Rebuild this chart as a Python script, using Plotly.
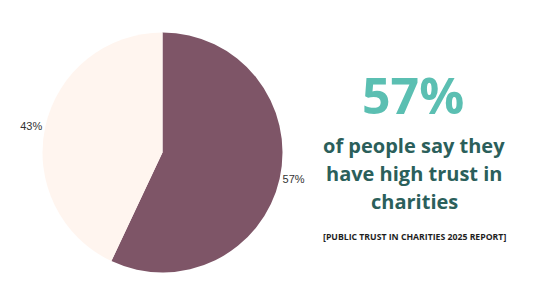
import plotly.graph_objects as go

labels = ["High trust", "Not high trust"]
values = [57, 43]
colors = ["#7e5567", "#fff5ef"]

headline = "57%"
subtitle_lines = ["of people say they", "have high trust in", "charities"]
source = "[PUBLIC TRUST IN CHARITIES 2025 REPORT]"

W, H = 544, 306
cx, cy, r = 162.5, 152.5, 120
fig = go.Figure(go.Pie(
    labels=labels, values=values, sort=False, direction="clockwise", rotation=0,
    marker=dict(colors=colors, line=dict(width=0)),
    textinfo="percent", textposition="outside",
    textfont=dict(family="Liberation Sans, Arial", size=11, color="#333333"),
    domain=dict(x=[(cx - r) / W, (cx + r) / W], y=[(H - cy - r) / H, (H - cy + r) / H]),
    showlegend=False, hoverinfo="label+percent",
))
fig.add_annotation(text=f"<b>{headline}</b>", x=413 / W, y=1 - 95 / H, xref="paper", yref="paper",
                   showarrow=False, xanchor="center", yanchor="middle",
                   font=dict(family="Open Sans", size=50, color="#5bbfb2"))
for i, line in enumerate(subtitle_lines):
    fig.add_annotation(text=f"<b>{line}</b>", x=414 / W, y=1 - (145 + 28 * i) / H, xref="paper", yref="paper",
                       showarrow=False, xanchor="center", yanchor="middle", align="center",
                       font=dict(family="Open Sans", size=20, color="#2b5f5b"))
fig.add_annotation(text=f"<b>{source}</b>", x=414 / W, y=1 - 236.5 / H, xref="paper", yref="paper",
                   showarrow=False, xanchor="center", yanchor="middle",
                   font=dict(family="Open Sans", size=8.7, color="#1e1e1e"))
fig.update_layout(width=W, height=H, margin=dict(l=0, r=0, t=0, b=0),
                  paper_bgcolor="white", plot_bgcolor="white")
fig.write_html("out.html")
